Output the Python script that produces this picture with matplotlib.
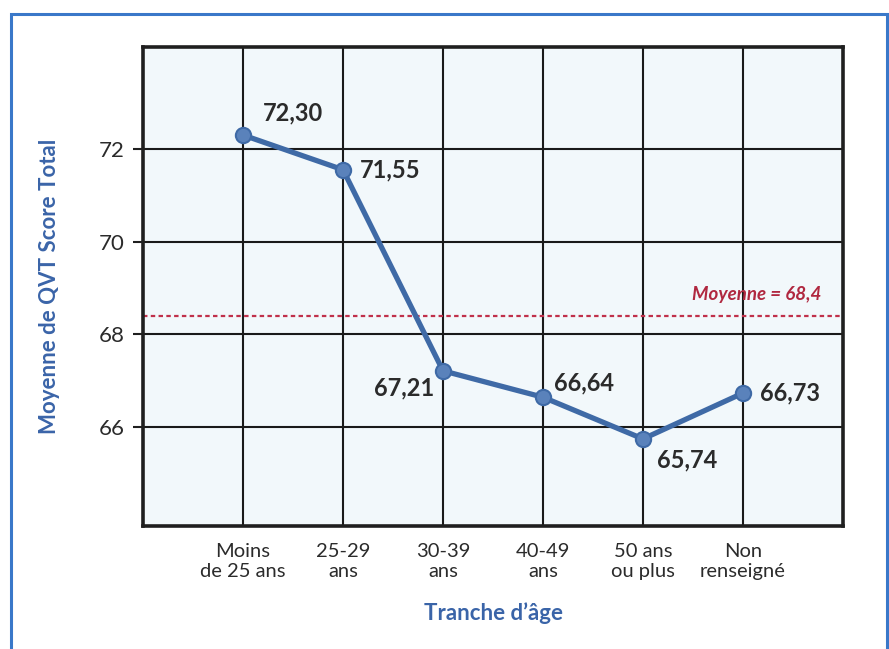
import matplotlib
matplotlib.use("Agg")
import matplotlib.pyplot as plt
from matplotlib.patches import Rectangle

plt.rcParams['font.family'] = ['Lato', 'DejaVu Sans']

categories = ["Moins\nde 25 ans", "25-29\nans", "30-39\nans", "40-49\nans", "50 ans\nou plus", "Non\nrenseigné"]
values = [72.30, 71.55, 67.21, 66.64, 65.74, 66.73]
value_labels = ["72,30", "71,55", "67,21", "66,64", "65,74", "66,73"]
y_ticks = [66, 68, 70, 72]
mean_value = 68.4
mean_label = "Moyenne = 68,4"

# label offsets in points (dx, dy) and alignment
label_offsets = [(14, 16, 'left'), (12, 0, 'left'), (-6, -12, 'right'), (8, 10, 'left'), (10, -15, 'left'), (12, 0, 'left')]

fig = plt.figure(figsize=(8.89, 6.49), dpi=100)
fig.patch.set_facecolor('white')

# outer blue frame
fig.add_artist(Rectangle((11/889, -0.05), (887-11)/889, 1.05 - 14/649,
                         transform=fig.transFigure, fill=False,
                         edgecolor='#3a78c9', linewidth=2.2))

ax = fig.add_axes([143/889, 1-526/649, 700/889, (526-47)/649])
ax.set_facecolor('#f2f8fb')

x = list(range(1, len(values) + 1))
ax.set_xlim(0, 7)
ax.set_ylim(63.86, 74.2)

# grid
for gx in range(1, 7):
    ax.axvline(gx, color='#1a1a1a', linewidth=1.5, zorder=1)
for gy in y_ticks:
    ax.axhline(gy, color='#1a1a1a', linewidth=1.5, zorder=1)

for s in ax.spines.values():
    s.set_linewidth(2.6)
    s.set_color('#1f1f1f')

# mean line
ax.axhline(mean_value, color='#c0304a', linewidth=1.6, linestyle=(0, (2, 1.5)), zorder=2)
ax.text(6.78, mean_value + 0.45, mean_label, color='#b02840', fontsize=13.5,
        style='italic', fontweight='bold', ha='right', va='center', zorder=3)

ax.plot(x, values, color='#3f6aa6', linewidth=3.8, zorder=4,
        marker='o', markersize=11, markerfacecolor='#5a82bb',
        markeredgecolor='#3f6aa6', markeredgewidth=1.5)

for xi, v, lab, (dx, dy, ha) in zip(x, values, value_labels, label_offsets):
    ax.annotate(lab, (xi, v), xytext=(dx, dy), textcoords='offset points',
                ha=ha, va='center', fontsize=17, fontweight='bold', color='#2b2b2b', zorder=5)

ax.set_yticks(y_ticks)
ax.set_yticklabels([str(t) for t in y_ticks], fontsize=16, color='#2b2b2b')
ax.set_xticks(x)
ax.set_xticklabels(categories, fontsize=14.5, color='#2b2b2b', linespacing=1.25)
ax.tick_params(axis='y', length=7, width=1.5, pad=6, color='#1f1f1f')
ax.tick_params(axis='x', length=0, pad=12)

ax.set_ylabel("Moyenne de QVT Score Total", fontsize=16, fontweight='bold', color='#3a64a8', labelpad=28)
ax.set_xlabel("Tranche d’âge", fontsize=16, fontweight='bold', color='#3a64a8', labelpad=16)

fig.savefig("out.png", dpi=100)
